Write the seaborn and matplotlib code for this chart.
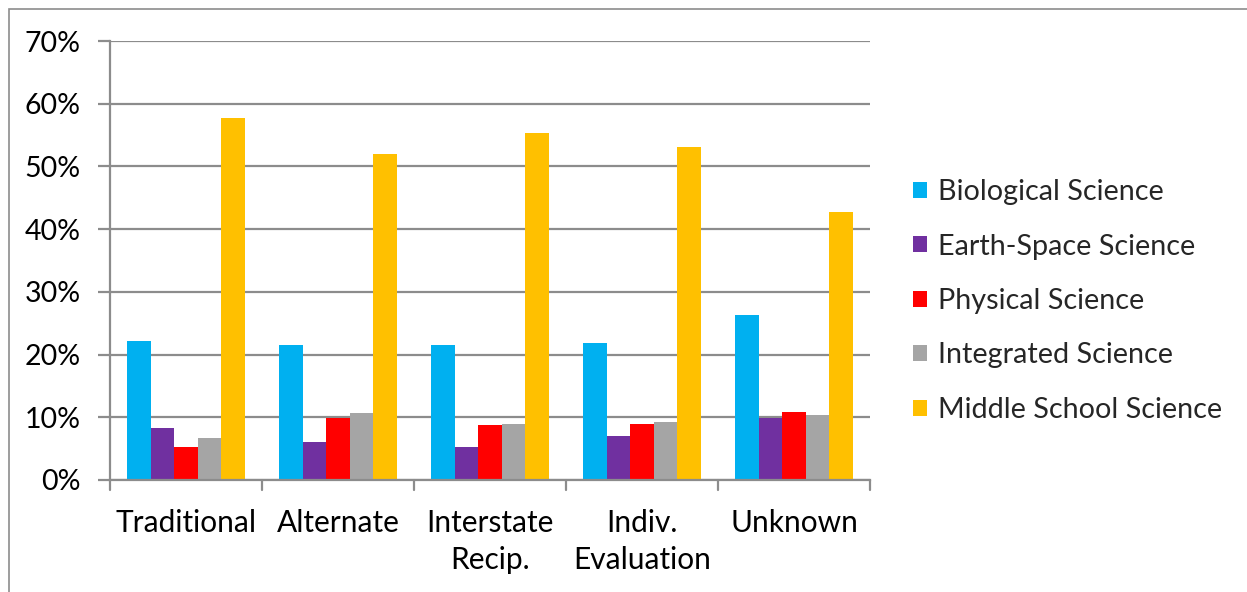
import matplotlib
matplotlib.use("Agg")
import matplotlib.pyplot as plt
from matplotlib.patches import Patch, Rectangle
from matplotlib.ticker import FuncFormatter, MultipleLocator
import numpy as np
import pandas as pd
import seaborn as sns

# Share of certified teachers by science field, per certification route
routes = ["Traditional", "Alternate", "Interstate\nRecip.", "Indiv.\nEvaluation", "Unknown"]
fields = ["Biological Science", "Earth-Space Science", "Physical Science",
          "Integrated Science", "Middle School Science"]
biological = [22.2, 21.5, 21.5, 21.8, 26.3]
earth_space = [8.3, 6.1, 5.3, 7.0, 9.95]
physical = [5.2, 9.85, 8.8, 8.9, 10.8]
integrated = [6.65, 10.65, 8.9, 9.3, 10.4]
middle_school = [57.7, 52.0, 55.4, 53.1, 42.7]
field_colors = ["#00B0F0", "#7030A0", "#FF0000", "#A5A5A5", "#FFC000"]

series = [biological, earth_space, physical, integrated, middle_school]
df = pd.DataFrame(
    [(r, f, v) for f, vals in zip(fields, series) for r, v in zip(routes, vals)],
    columns=["route", "field", "pct"],
)

sns.set_theme(style="white")
plt.rcParams["font.family"] = ["Lato", "DejaVu Sans"]

W, H = 1247, 592
fig = plt.figure(figsize=(W / 100, H / 100), dpi=100)
fig.patch.set_facecolor("white")

# plot area in pixel units
left, right, top, bottom = 110, 870, 41, 480
ax = fig.add_axes([left / W, (H - bottom) / H, (right - left) / W, (bottom - top) / H])

sns.barplot(data=df, x="route", y="pct", hue="field", order=routes, hue_order=fields,
            palette=field_colors, width=0.77, gap=0, saturation=1, ax=ax,
            legend=False, edgecolor="none", linewidth=0)

grid_c = "#8C8C8C"
ax.set_ylim(0, 70)
ax.set_xlim(-0.5, len(routes) - 0.5)
ax.yaxis.set_major_locator(MultipleLocator(10))
ax.yaxis.set_major_formatter(FuncFormatter(lambda v, _: f"{v:.0f}%"))
ax.yaxis.grid(True, color=grid_c, linewidth=1.6)
ax.set_axisbelow(True)
ax.set_xlabel("")
ax.set_ylabel("")

for s in ["top", "right"]:
    ax.spines[s].set_visible(False)
for s in ["left", "bottom"]:
    ax.spines[s].set_color(grid_c)
    ax.spines[s].set_linewidth(1.6)

# category separators as ticks between groups
ax.set_xticks(np.arange(len(routes)))
ax.set_xticklabels(routes, fontsize=21.5, color="black", linespacing=1.4)
ax.tick_params(axis="x", length=0, pad=21)
for xb in np.arange(-0.5, len(routes), 1.0):
    ax.plot([xb, xb], [0, -0.023], transform=ax.get_xaxis_transform(),
            color=grid_c, linewidth=1.6, clip_on=False)
ax.tick_params(axis="y", labelsize=20.5, labelcolor="black", length=9,
               width=1.6, color=grid_c, direction="out", pad=12, left=True)
for lbl in ax.get_xticklabels():
    lbl.set_verticalalignment("top")

handles = [Patch(facecolor=c, edgecolor="none", label=f) for c, f in zip(field_colors, fields)]
fig.legend(handles=handles, loc="center left", bbox_to_anchor=(913 / W, 1 - 301 / H),
           frameon=False, fontsize=20.7, handlelength=0.48, handleheight=0.48,
           handletextpad=0.4, labelspacing=0.99, borderaxespad=0, borderpad=0)

# chart frame
fig.patches.append(Rectangle((8.5 / W, -0.1), 2.0, 1.1 - 8.5 / H, transform=fig.transFigure,
                             fill=False, edgecolor="#8C8C8C", linewidth=1.2))

fig.savefig("out.png", dpi=100, facecolor="white")
